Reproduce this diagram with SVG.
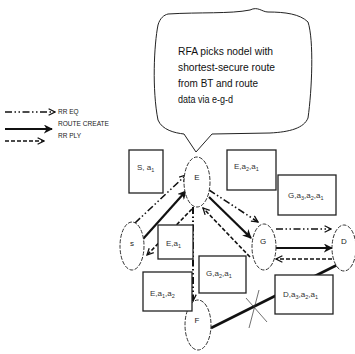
<svg xmlns="http://www.w3.org/2000/svg" width="355" height="354" viewBox="0 0 355 354">
<defs>
<style>
.node{fill:#fff;stroke:#333;stroke-width:1;stroke-dasharray:4 1.5}
.lbl{font-family:"Liberation Sans",Arial,sans-serif;font-size:8px;fill:#222;text-anchor:middle}
.box{fill:#fff;stroke:#222;stroke-width:1.3}
.bt{font-family:"Liberation Sans",Arial,sans-serif;font-size:8px;fill:#333}
.sub{font-size:5.5px}
.leg{font-family:"Liberation Sans",Arial,sans-serif;font-size:6.5px;fill:#222}
.bub{font-family:"Liberation Sans",Arial,sans-serif;font-size:10px;fill:#111}
.req{fill:none;stroke:#111;stroke-width:1.6;stroke-dasharray:7 2.5 1.5 2.5 1.5 2.5;marker-end:url(#open)}
.cr{fill:none;stroke:#111;stroke-width:2.2;marker-end:url(#solid)}
.rep{fill:none;stroke:#111;stroke-width:1.6;stroke-dasharray:4 2;marker-end:url(#open)}
</style>
<marker id="open" viewBox="0 0 10 10" refX="9" refY="5" markerWidth="8" markerHeight="8" markerUnits="userSpaceOnUse" orient="auto"><path d="M1,1 L9,5 L1,9" fill="none" stroke="#111" stroke-width="1.6"/></marker>
<marker id="solid" viewBox="0 0 10 10" refX="9" refY="5" markerWidth="9" markerHeight="9" markerUnits="userSpaceOnUse" orient="auto"><path d="M0,0 L10,5 L0,10 L3,5 Z" fill="#111"/></marker>
</defs>
<rect width="355" height="354" fill="#fff"/>

<g id="callout">
<path d="M168,14 C200,12 230,14 250,10 C258,6 262,12 268,12 C285,12 300,14 308,22 C314,40 312,90 308,118 C304,128 290,132 270,133 L212,134 L196,152 L184,134 C175,133 162,130 158,120 C152,90 154,45 158,25 C160,18 164,15 168,14 Z" fill="#fff" stroke="#222" stroke-width="1"/>
<text class="bub" x="178" y="55" textLength="95" lengthAdjust="spacingAndGlyphs">RFA picks nodel with</text>
<text class="bub" x="178" y="71" textLength="97" lengthAdjust="spacingAndGlyphs">shortest-secure route</text>
<text class="bub" x="178" y="87" textLength="80" lengthAdjust="spacingAndGlyphs">from BT and route</text>
<text class="bub" x="178" y="103" textLength="55" lengthAdjust="spacingAndGlyphs">data via e-g-d</text>
</g>

<g id="legend">
<line class="req" x1="5" y1="112" x2="55" y2="112"/>
<line class="cr" x1="5" y1="129" x2="52" y2="129"/>
<line class="rep" x1="5" y1="141" x2="44" y2="141"/>
<text class="leg" x="58" y="114">RR EQ</text>
<text class="leg" x="58" y="126" textLength="51" lengthAdjust="spacingAndGlyphs">ROUTE CREATE</text>
<text class="leg" x="58" y="138">RR PLY</text>
</g>

<g id="connectors">
<line x1="337" y1="265" x2="211" y2="328" stroke="#111" stroke-width="2.6"/>
<line x1="246" y1="298" x2="267" y2="322" stroke="#333" stroke-width="0.7"/>
<line x1="249" y1="328" x2="259" y2="290" stroke="#333" stroke-width="0.7"/>
<line class="req" x1="135" y1="223" x2="186" y2="175"/>
<line class="cr" x1="143" y1="239" x2="186" y2="191"/>
<line class="rep" x1="192" y1="209" x2="147" y2="255"/>
<line class="req" x1="209" y1="190" x2="258" y2="222"/>
<line class="cr" x1="209" y1="197" x2="251" y2="238"/>
<line class="rep" x1="250" y1="257" x2="203" y2="208"/>
<line class="req" x1="276" y1="229" x2="331" y2="229"/>
<line class="cr" x1="276" y1="248" x2="332" y2="248"/>
<line class="rep" x1="332" y1="259" x2="276" y2="259"/>
<line class="req" x1="193" y1="207" x2="193" y2="301" style="stroke-width:2"/>
</g>

<g id="node-S"><ellipse class="node" cx="132" cy="246" rx="12" ry="24"/><text class="lbl" x="132" y="246">s</text></g>
<g id="node-E"><ellipse class="node" cx="197" cy="182" rx="13" ry="25"/><text class="lbl" x="197" y="180">E</text></g>
<g id="node-G"><ellipse class="node" cx="264" cy="247" rx="12" ry="23"/><text class="lbl" x="263" y="244">G</text></g>
<g id="node-D"><ellipse class="node" cx="344" cy="248" rx="12" ry="23"/><text class="lbl" x="344" y="244">D</text></g>
<g id="node-F"><ellipse class="node" cx="198" cy="325" rx="13" ry="25"/><text class="lbl" x="197" y="323">F</text></g>

<g id="box-S-a1"><rect class="box" x="129" y="150" width="34" height="43"/><text class="bt" x="137" y="170">S, a<tspan class="sub" dy="2">1</tspan></text></g>
<g id="box-E-a2-a1"><rect class="box" x="227" y="150" width="49" height="40"/><text class="bt" x="234" y="169">E,a<tspan class="sub" dy="2">2</tspan><tspan dy="-2">,a</tspan><tspan class="sub" dy="2">1</tspan></text></g>
<g id="box-G-a3-a2-a1"><rect class="box" x="278" y="175" width="58" height="40"/><text class="bt" x="288" y="198">G,a<tspan class="sub" dy="2">3</tspan><tspan dy="-2">,a</tspan><tspan class="sub" dy="2">2</tspan><tspan dy="-2">,a</tspan><tspan class="sub" dy="2">1</tspan></text></g>
<g id="box-E-a1"><rect class="box" x="158" y="225" width="35" height="34"/><text class="bt" x="166" y="246">E,a<tspan class="sub" dy="2">1</tspan></text></g>
<g id="box-E-a1-a2"><rect class="box" x="143" y="272" width="49" height="39"/><text class="bt" x="150" y="296">E,a<tspan class="sub" dy="2">1</tspan><tspan dy="-2">,a</tspan><tspan class="sub" dy="2">2</tspan></text></g>
<g id="box-G-a2-a1"><rect class="box" x="199" y="256" width="47" height="37"/><text class="bt" x="206" y="276">G,a<tspan class="sub" dy="2">2</tspan><tspan dy="-2">,a</tspan><tspan class="sub" dy="2">1</tspan></text></g>
<g id="box-D-a3-a2-a1"><rect class="box" x="275" y="275" width="58" height="39"/><text class="bt" x="283" y="297">D,a<tspan class="sub" dy="2">3</tspan><tspan dy="-2">,a</tspan><tspan class="sub" dy="2">2</tspan><tspan dy="-2">,a</tspan><tspan class="sub" dy="2">1</tspan></text></g>
</svg>
